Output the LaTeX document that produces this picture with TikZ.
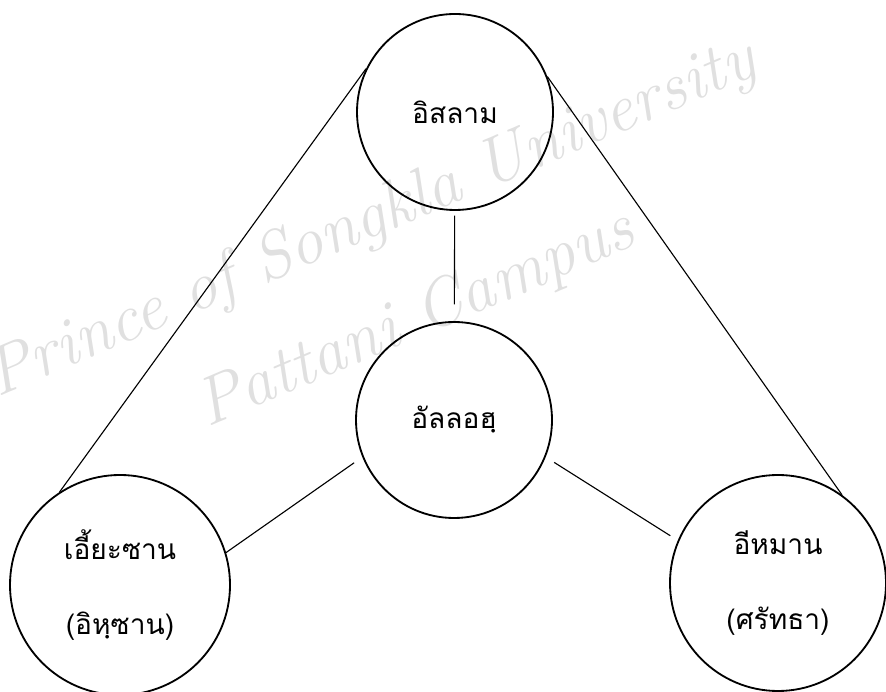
\documentclass[tikz,border=0pt]{standalone}
\usepackage{fontspec}
\newfontfamily\thaifont[Script=Thai]{Loma}
\tikzset{
  pillar/.style={circle, draw, line width=1.3pt, inner sep=0pt, align=center,
    font=\thaifont\fontsize{20}{53}\selectfont},
  link/.style={line width=0.8pt},
  stamp/.style={text=black!12, font=\itshape\fontsize{48}{54}\selectfont, rotate=23}
}
\begin{document}
\begin{tikzpicture}
  \useasboundingbox (0,0) rectangle (22.15,17.3);
  \node[stamp] (stampa) at (9.3,11.8) {Prince of Songkla University};
  \node[stamp] (stampb) at (10.4,9.3) {Pattani Campus};
  \node[pillar, minimum size=4.9cm] (islam) at (11.375,14.5) {อิสลาม};
  \node[pillar, minimum size=4.9cm] (allah) at (11.35,6.8) {อัลลอฮฺ};
  \node[pillar, minimum size=5.5cm] (ihsan) at (3.0,2.675) {เอี้ยะซาน\\(อิหฺซาน)};
  \node[pillar, minimum size=5.4cm] (iman) at (19.45,2.725) {อีหมาน\\(ศรัทธา)};
  \draw[link, shorten <=0.12cm, shorten >=0.42cm] (islam) -- (allah);
  \draw[link, shorten <=0.25cm] (allah.202) -- (ihsan.17);
  \draw[link, shorten <=0.25cm, shorten >=0.22cm] (allah.338) -- (iman.157);
  \draw[link] (islam.154.5) -- (ihsan.123);
  \draw[link] (islam.21) -- (iman.54);
\end{tikzpicture}
\end{document}
